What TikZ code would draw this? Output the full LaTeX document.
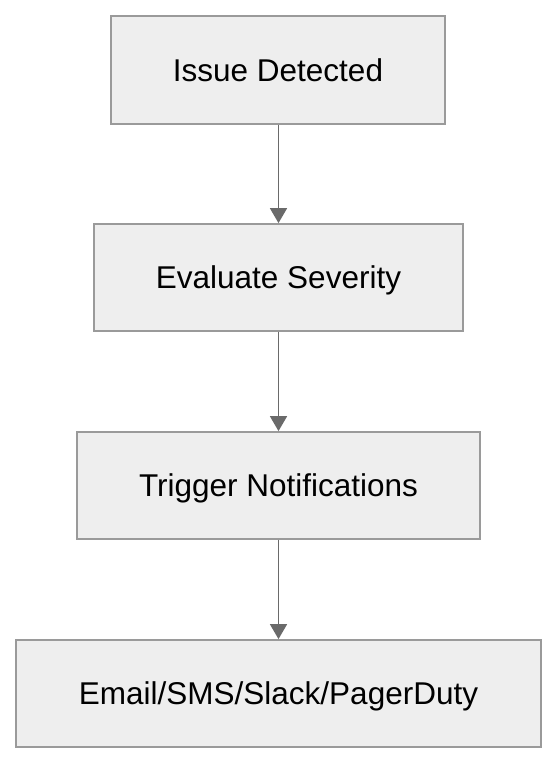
\documentclass[tikz,border=0pt]{standalone}
\usepackage{fontspec}
\setmainfont{Liberation Sans}
\usetikzlibrary{arrows.meta}
\definecolor{boxfill}{HTML}{EEEEEE}
\definecolor{boxdraw}{HTML}{9A9A9A}
\definecolor{arrowc}{HTML}{6A6A6A}
\begin{document}
\begin{tikzpicture}[x=1pt,y=-1pt,
  flowbox/.style={draw=boxdraw, fill=boxfill, line width=1.8pt, inner sep=0pt, text height=22.5pt, text depth=0pt, font=\fontsize{31.5}{36}\selectfont, text=black},
  flowarrow/.style={draw=arrowc, line width=1.6pt, -{Triangle[width=17pt,length=15pt]}, fill=arrowc}]
\useasboundingbox (0,0) rectangle (558,764);
\fill[white] (0,0) rectangle (558,764);
\node[flowbox, minimum width=334pt, minimum height=108pt] (a) at (278,70) {Issue Detected};
\node[flowbox, minimum width=369pt, minimum height=107pt] (b) at (278.5,277.5) {Evaluate Severity};
\node[flowbox, minimum width=403pt, minimum height=107pt] (c) at (278.5,485.5) {Trigger Notifications};
\node[flowbox, minimum width=525pt, minimum height=107pt] (d) at (278.5,693.5) {Email/SMS/Slack/PagerDuty};
\draw[flowarrow] (a.south -| b.north) -- (b.north);
\draw[flowarrow] (b.south) -- (c.north);
\draw[flowarrow] (c.south) -- (d.north);
\end{tikzpicture}
\end{document}
